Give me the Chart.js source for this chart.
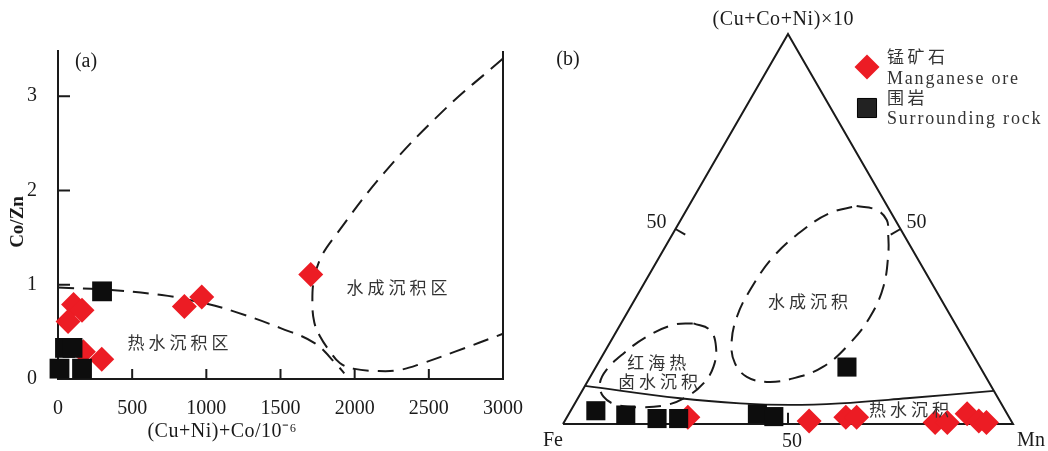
<!DOCTYPE html>
<html>
<head>
    <meta charset="utf-8">
    <title>Co/Zn vs (Cu+Ni)+Co and Fe-Mn-(Cu+Co+Ni) diagrams</title>
    <script src="https://cdn.jsdelivr.net/npm/chart.js@4.4.0/dist/chart.umd.min.js"></script>
    <style>
        body { margin: 0; background: #fff; }
        #wrap { position: relative; width: 1048px; height: 451px; overflow: hidden; }
        .panel { position: absolute; top: 0; height: 451px; }
        #panelA { left: 0; width: 545px; }
        #panelB { left: 520px; width: 528px; }
    </style>
</head>
<body>
<div id="wrap">
    <div class="panel" id="panelA"><canvas id="chartA"></canvas></div>
    <div class="panel" id="panelB"><canvas id="chartB"></canvas></div>
</div>

<script>
// ---------- panel (a): (Cu+Ni)+Co /10^-6 vs Co/Zn ----------
var oreSumA   = [105, 162, 68, 171, 295, 852, 969, 1704];
var oreRatioA = [0.79, 0.73, 0.61, 0.29, 0.21, 0.77, 0.87, 1.11];
var rockSumA   = [297, 47, 98, 10, 162];
var rockRatioA = [0.93, 0.33, 0.33, 0.11, 0.11];

// dashed field boundaries
var hydroEdgeX = [0, 300, 700, 1000, 1200, 1500, 1730, 1880, 1930];
var hydroEdgeY = [0.97, 0.95, 0.89, 0.80, 0.71, 0.54, 0.38, 0.15, 0.06];
var aqueousEdgeX = [3000, 2600, 2200, 1860, 1770, 1725, 1715, 1728, 1767, 1830, 1900, 1990, 2150, 2300, 2463, 2677, 3000];
var aqueousEdgeY = [3.40, 2.85, 2.19, 1.50, 1.28, 1.05, 0.80, 0.60, 0.45, 0.30, 0.17, 0.11, 0.085, 0.095, 0.17, 0.29, 0.48];

var xTicksA = [0, 500, 1000, 1500, 2000, 2500, 3000];
var yTicksA = [0, 1, 2, 3];

// ---------- panel (b): Fe - Mn - (Cu+Co+Ni)x10 ternary, in % (Fe = 100 - Mn - C) ----------
var oreMnB = [26.9, 54.3, 62.0, 64.4, 82.5, 85.2, 88.5, 92.0, 93.9];
var oreCB  = [1.7, 0.8, 1.7, 1.7, 0.4, 0.4, 2.6, 0.8, 0.4];
var rockMnB = [5.6, 12.8, 20.2, 25.0, 41.9, 45.9, 55.8];
var rockCB  = [3.4, 2.3, 1.4, 1.4, 2.6, 1.9, 14.6];

// solid hydrothermal boundary
var hydroLineMn = [0, 22.7, 36.7, 48.0, 58.9, 73.1, 91.5];
var hydroLineC  = [9.8, 6.6, 5.3, 4.9, 5.3, 6.6, 8.5];
// Red Sea brine field (dashed)
var redSeaMn = [16.1, 20.6, 24.1, 26.1, 26.0, 24.0, 20.6, 15.0, 9.5, 5.5, 3.0, 2.7, 4.4, 7.4, 11.8, 16.1];
var redSeaC  = [25.8, 24.1, 19.8, 14.7, 10.4, 7.0, 4.9, 4.3, 4.9, 7.0, 10.4, 13.9, 18.1, 22.4, 25.4, 25.8];
// hydrogenous field (dashed)
var aqueousMn = [37.3, 42.2, 45.8, 47.8, 50.4, 53.6, 54.5, 53.4, 50.5, 45.3, 39.9, 34.8, 30.4, 27.1, 24.9, 24.4, 25.3, 28.5, 32.3, 37.3];
var aqueousC  = [55.9, 54.9, 52.3, 48.9, 43.8, 35.2, 27.5, 20.7, 14.7, 11.7, 10.8, 12.1, 15.6, 20.7, 27.5, 34.4, 42.9, 49.8, 54.1, 55.9];

var ternaryTicks = [50];

// ---------- styles ----------
var RED = '#ec1c24';
var BLACK = '#0d0d0d';
var INK = '#1a1a1a';
var serif = "'Liberation Serif', 'Times New Roman', serif";
var cjk = "'Noto Sans CJK SC', sans-serif";
var DASH = [16, 9];

function pairs(xs, ys) {
    return xs.map(function (v, i) { return { x: v, y: ys[i] }; });
}
// ternary -> cartesian, Fe at (0,0), Mn at (1,0), (Cu+Co+Ni)x10 at the apex
function tern(mn, c) {
    return { x: (mn + c / 2) / 100, y: (c / 100) * Math.sqrt(3) / 2 };
}
function ternPairs(mns, cs) {
    return mns.map(function (m, i) { return tern(m, cs[i]); });
}

function text(ctx, str, x, y, font, spacing, align, color) {
    ctx.save();
    ctx.font = font;
    ctx.fillStyle = color || INK;
    ctx.textBaseline = 'middle';
    ctx.textAlign = align || 'center';
    if ('letterSpacing' in ctx) ctx.letterSpacing = (spacing || 0) + 'px';
    if ((align || 'center') === 'center') x += (spacing || 0) / 2;
    ctx.fillText(str, x, y);
    ctx.restore();
}
function seg(ctx, x1, y1, x2, y2) {
    ctx.beginPath();
    ctx.moveTo(x1, y1);
    ctx.lineTo(x2, y2);
    ctx.stroke();
}

// ---------- chart (a) ----------
var panelADecor = {
    id: 'panelADecor',
    afterDraw: function (chart) {
        var ctx = chart.ctx, area = chart.chartArea;
        var xs = chart.scales.x, ys = chart.scales.y;
        ctx.save();
        ctx.strokeStyle = INK;
        ctx.lineWidth = 2;
        // right frame line (no top line)
        seg(ctx, area.right, area.bottom + 1, area.right, area.top);
        // inward tick marks
        xTicksA.forEach(function (v) {
            if (v > xs.min && v < xs.max) {
                var px = xs.getPixelForValue(v);
                seg(ctx, px, area.bottom, px, area.bottom - 10);
            }
        });
        yTicksA.forEach(function (v) {
            if (v > ys.min) {
                var py = ys.getPixelForValue(v);
                seg(ctx, area.left, py, area.left + 12, py);
            }
        });
        ctx.restore();

        // field names
        text(ctx, '热水沉积区', xs.getPixelForValue(809), ys.getPixelForValue(0.39), '17px ' + cjk, 4, 'center', '#333');
        text(ctx, '水成沉积区', xs.getPixelForValue(2286), ys.getPixelForValue(0.965), '17px ' + cjk, 4, 'center', '#333');
        text(ctx, '(a)', area.left + 28, area.top + 11, '20px ' + serif, 0, 'center');

        // axis titles
        text(ctx, '(Cu+Ni)+Co/10⁻⁶', 222, 432, '20px ' + serif, 0.5, 'center');
        ctx.save();
        ctx.translate(18, 222);
        ctx.rotate(-Math.PI / 2);
        text(ctx, 'Co/Zn', 0, 0, 'bold 19px ' + serif, 0, 'center');
        ctx.restore();
    }
};

var chartA = new Chart(document.getElementById('chartA'), {
    type: 'scatter',
    data: {
        datasets: [
            {
                label: 'Surrounding rock',
                data: pairs(rockSumA, rockRatioA),
                pointStyle: 'rect',
                pointRadius: 14,
                backgroundColor: BLACK,
                borderWidth: 0,
                order: 0,
                clip: false
            },
            {
                label: 'Manganese ore',
                data: pairs(oreSumA, oreRatioA),
                pointStyle: 'rectRot',
                pointRadius: 12.5,
                backgroundColor: RED,
                borderWidth: 0,
                order: 1,
                clip: false
            },
            {
                label: 'hydrothermal boundary',
                data: pairs(hydroEdgeX, hydroEdgeY),
                showLine: true,
                tension: 0.4,
                borderColor: INK,
                borderWidth: 2,
                borderDash: DASH,
                pointRadius: 0,
                order: 2,
                clip: false
            },
            {
                label: 'hydrogenous boundary',
                data: pairs(aqueousEdgeX, aqueousEdgeY),
                showLine: true,
                tension: 0.4,
                borderColor: INK,
                borderWidth: 2,
                borderDash: DASH,
                pointRadius: 0,
                order: 2,
                clip: false
            }
        ]
    },
    options: {
        responsive: true,
        maintainAspectRatio: false,
        animation: false,
        events: [],
        layout: { padding: { left: 0, right: 42, top: 51, bottom: 0 } },
        plugins: { legend: { display: false }, tooltip: { enabled: false } },
        scales: {
            x: {
                type: 'linear',
                min: 0,
                max: 3000,
                afterBuildTicks: function (s) { s.ticks = xTicksA.map(function (v) { return { value: v }; }); },
                afterFit: function (s) { s.height = 72; s.paddingLeft = 0; s.paddingRight = 0; },
                grid: { display: false },
                border: { display: true, color: INK, width: 2 },
                ticks: {
                    color: INK, font: { family: serif, size: 20 }, padding: 10, maxRotation: 0,
                    callback: function (v) { return String(v); }
                }
            },
            y: {
                type: 'linear',
                min: 0,
                max: 3.48,
                afterBuildTicks: function (s) { s.ticks = yTicksA.map(function (v) { return { value: v }; }); },
                afterFit: function (s) { s.width = 58; s.paddingTop = 0; s.paddingBottom = 0; },
                grid: { display: false },
                border: { display: true, color: INK, width: 2 },
                ticks: {
                    color: INK, font: { family: serif, size: 20 }, padding: 13,
                    callback: function (v) { return String(v); }
                }
            }
        }
    },
    plugins: [panelADecor]
});

// ---------- chart (b) ----------
var TICK_LEN = 0.025;
var C30 = Math.cos(Math.PI / 6), S30 = 0.5;

function tickSegments() {
    var out = [];
    ternaryTicks.forEach(function (t) {
        var l = tern(0, t), r = tern(100 - t, t), b = tern(t, 0);
        out.push([l, { x: l.x + TICK_LEN * C30, y: l.y - TICK_LEN * S30 }]);
        out.push([r, { x: r.x - TICK_LEN * C30, y: r.y - TICK_LEN * S30 }]);
        out.push([b, { x: b.x, y: b.y + TICK_LEN }]);
    });
    return out;
}

var ternLineDatasets = [
    {
        label: 'triangle',
        data: [tern(0, 0), tern(100, 0), tern(0, 100), tern(0, 0)],
        showLine: true, tension: 0, borderColor: INK, borderWidth: 2,
        pointRadius: 0, order: 3, clip: false
    },
    {
        label: 'hydrothermal line',
        data: ternPairs(hydroLineMn, hydroLineC),
        showLine: true, tension: 0.4, borderColor: INK, borderWidth: 1.8,
        pointRadius: 0, order: 3, clip: false
    },
    {
        label: 'Red Sea brine field',
        data: ternPairs(redSeaMn, redSeaC),
        showLine: true, tension: 0.4, borderColor: INK, borderWidth: 2, borderDash: DASH,
        pointRadius: 0, order: 3, clip: false
    },
    {
        label: 'hydrogenous field',
        data: ternPairs(aqueousMn, aqueousC),
        showLine: true, tension: 0.4, borderColor: INK, borderWidth: 2, borderDash: DASH,
        pointRadius: 0, order: 3, clip: false
    }
];
tickSegments().forEach(function (s) {
    ternLineDatasets.push({
        label: 'tick', data: s, showLine: true, borderColor: INK, borderWidth: 2,
        pointRadius: 0, order: 3, clip: false
    });
});

var panelBDecor = {
    id: 'panelBDecor',
    afterDraw: function (chart) {
        var ctx = chart.ctx;
        var xs = chart.scales.x, ys = chart.scales.y;
        function px(p) { return { x: xs.getPixelForValue(p.x), y: ys.getPixelForValue(p.y) }; }

        // corner names
        var fe = px(tern(0, 0)), mn = px(tern(100, 0)), top = px(tern(0, 100));
        text(ctx, 'Fe', fe.x - 10, fe.y + 17, '20px ' + serif, 0, 'center');
        text(ctx, 'Mn', mn.x + 18, mn.y + 17, '20px ' + serif, 0, 'center');
        text(ctx, '(Cu+Co+Ni)×10', top.x - 5, top.y - 14, '20px ' + serif, 0.6, 'center');

        // 50 tick labels
        ternaryTicks.forEach(function (t) {
            var l = px(tern(0, t)), r = px(tern(100 - t, t)), b = px(tern(t, 0));
            text(ctx, String(t), l.x - 19, l.y - 6, '20px ' + serif, 0, 'center');
            text(ctx, String(t), r.x + 16, r.y - 6, '20px ' + serif, 0, 'center');
            text(ctx, String(t), b.x + 4, b.y + 18, '20px ' + serif, 0, 'center');
        });

        // field names
        var f1 = px(tern(38.8, 31.3)), f2 = px(tern(13.0, 15.7)), f3 = px(tern(15.7, 10.8)), f4 = px(tern(75.1, 3.6));
        text(ctx, '水成沉积', f1.x, f1.y, '17px ' + cjk, 4, 'center', '#333');
        text(ctx, '红海热', f2.x, f2.y, '17px ' + cjk, 4, 'center', '#333');
        text(ctx, '卤水沉积', f3.x, f3.y, '17px ' + cjk, 4, 'center', '#333');
        text(ctx, '热水沉积', f4.x, f4.y, '17px ' + cjk, 4, 'center', '#333');

        text(ctx, '(b)', 48, 60, '20px ' + serif, 0, 'center');

        // legend
        var lx = 347;
        ctx.save();
        ctx.fillStyle = RED;
        Chart.helpers.drawPoint(ctx, { pointStyle: 'rectRot', radius: 12.5, rotation: 0, borderWidth: 0 }, lx, 67);
        ctx.fillStyle = '#222';
        ctx.strokeStyle = '#000';
        Chart.helpers.drawPoint(ctx, { pointStyle: 'rect', radius: 13.5, rotation: 0, borderWidth: 1 }, lx, 108);
        ctx.restore();
        text(ctx, '锰矿石', lx + 20, 57, '17px ' + cjk, 3.5, 'left', '#333');
        text(ctx, 'Manganese ore', lx + 20, 79, '18px ' + serif, 1.8, 'left', '#333');
        text(ctx, '围岩', lx + 20, 98, '17px ' + cjk, 3.5, 'left', '#333');
        text(ctx, 'Surrounding rock', lx + 20, 119, '18px ' + serif, 1.8, 'left', '#333');
    }
};

var chartB = new Chart(document.getElementById('chartB'), {
    type: 'scatter',
    data: {
        datasets: [
            {
                label: 'Surrounding rock',
                data: ternPairs(rockMnB, rockCB),
                pointStyle: 'rect',
                pointRadius: 13.5,
                backgroundColor: BLACK,
                borderWidth: 0,
                order: 0,
                clip: false
            },
            {
                label: 'Manganese ore',
                data: ternPairs(oreMnB, oreCB),
                pointStyle: 'rectRot',
                pointRadius: 12.5,
                backgroundColor: RED,
                borderWidth: 0,
                order: 1,
                clip: false
            }
        ].concat(ternLineDatasets)
    },
    options: {
        responsive: true,
        maintainAspectRatio: false,
        animation: false,
        events: [],
        layout: { padding: { left: 43, right: 35, top: 34, bottom: 27 } },
        plugins: { legend: { display: false }, tooltip: { enabled: false } },
        scales: {
            x: { type: 'linear', min: 0, max: 1, display: false },
            y: { type: 'linear', min: 0, max: Math.sqrt(3) / 2, display: false }
        }
    },
    plugins: [panelBDecor]
});
</script>
</body>
</html>
